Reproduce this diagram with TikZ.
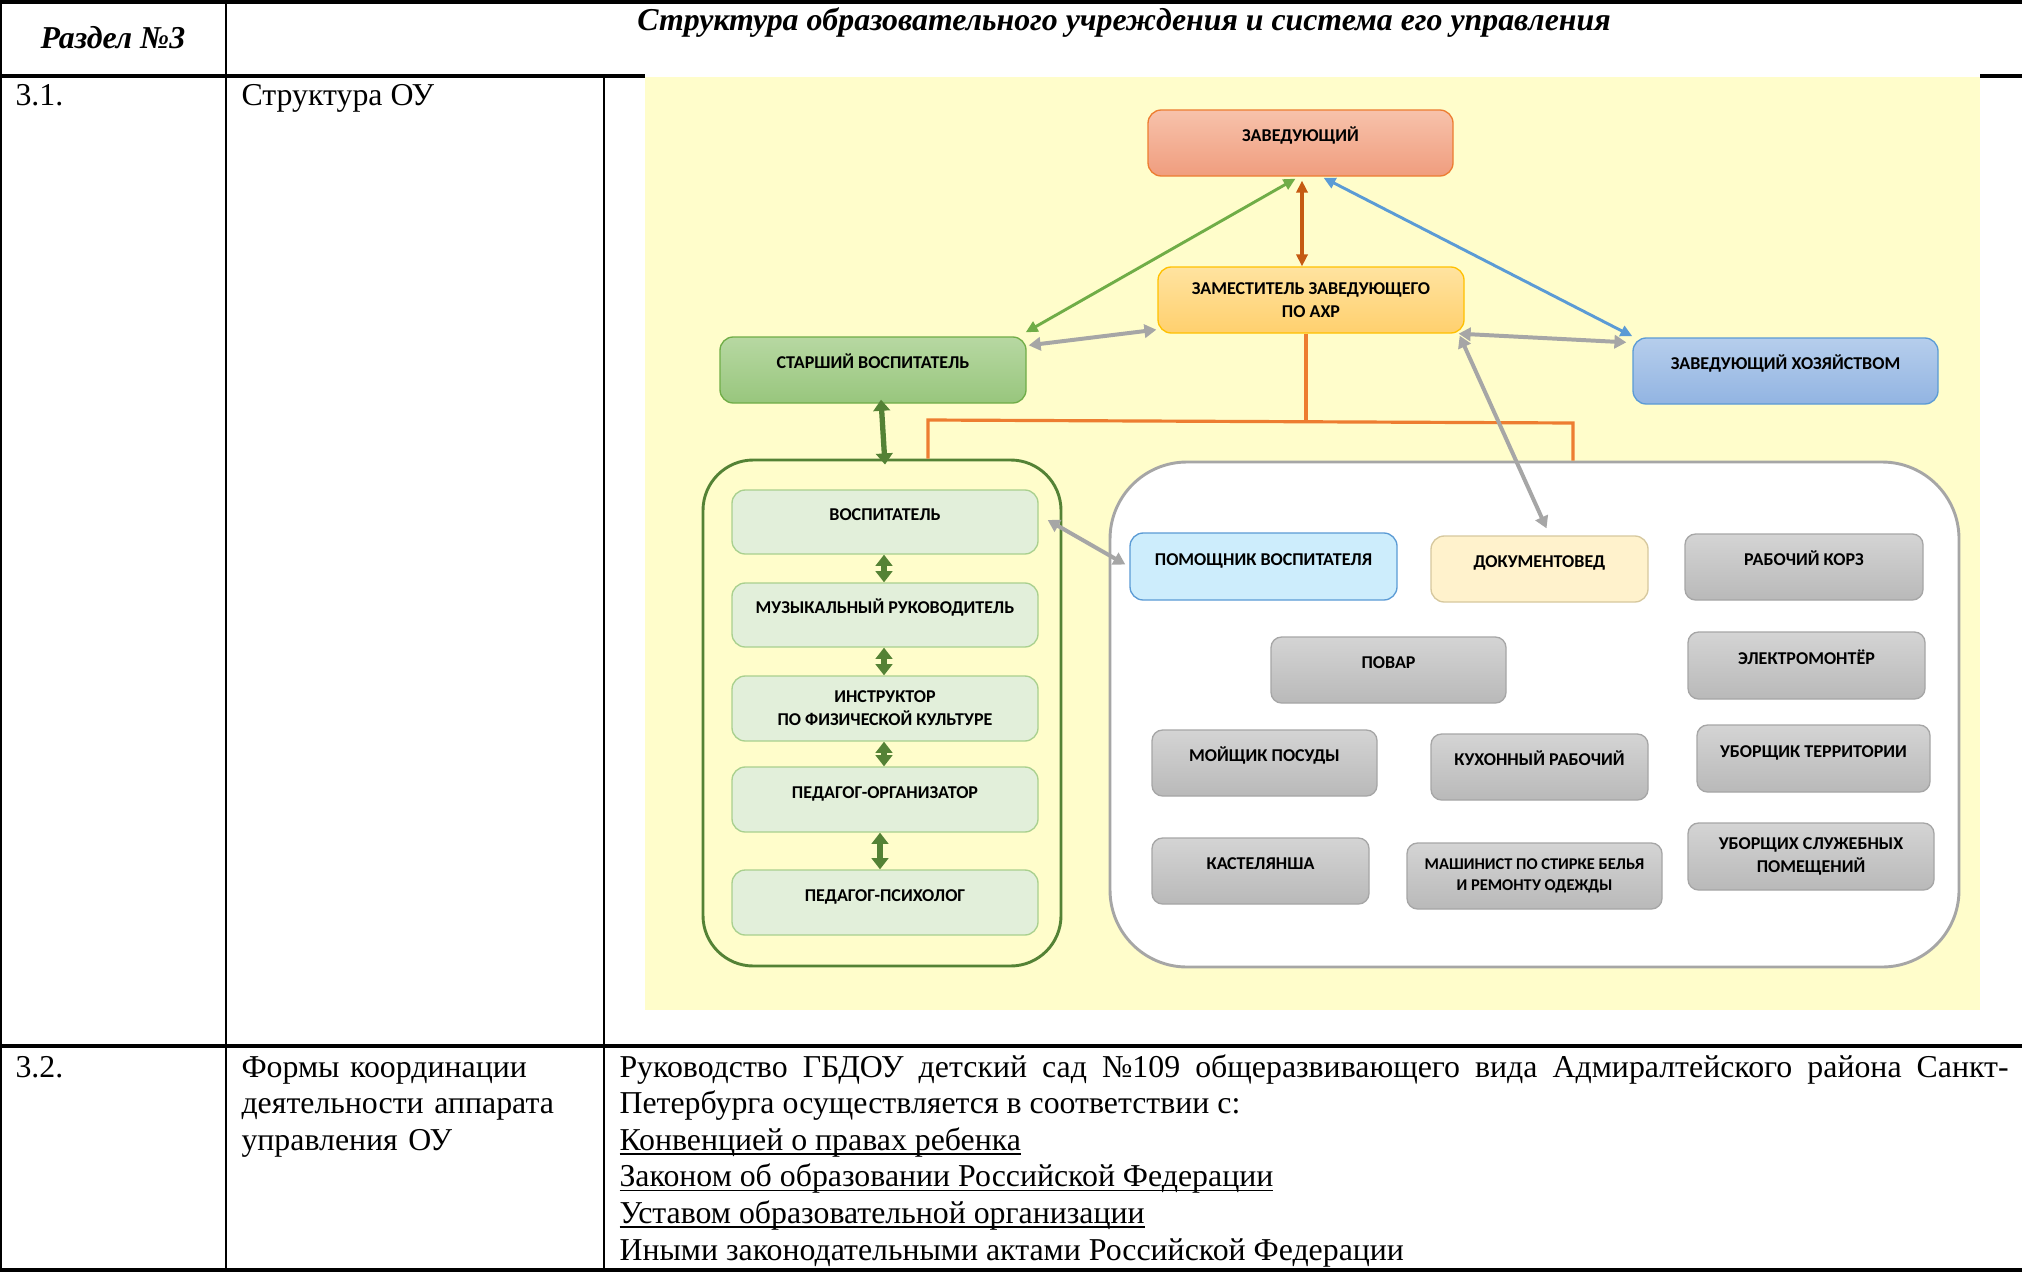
\documentclass[tikz,border=0pt]{standalone}
\usepackage{fontspec}
\setmainfont{Liberation Serif}
\newfontfamily\boxfont{Carlito}
\usetikzlibrary{arrows.meta,calc}
\setlength\parindent{0pt}
\newcommand\uln[1]{\leavevmode\setbox0\hbox{#1}\rlap{\rule[-1.7pt]{\wd0}{0.6pt}}\box0}

\definecolor{bgY}{HTML}{FFFDCB}
\definecolor{zavT}{HTML}{F7C2AB}
\definecolor{zavB}{HTML}{F09D7E}
\definecolor{zavD}{HTML}{ED7D31}
\definecolor{zamT}{HTML}{FFE3A0}
\definecolor{zamB}{HTML}{FFD06E}
\definecolor{zamD}{HTML}{FFC000}
\definecolor{svT}{HTML}{B7D8A2}
\definecolor{svB}{HTML}{98C67D}
\definecolor{svD}{HTML}{70AD47}
\definecolor{zhT}{HTML}{B6CEEC}
\definecolor{zhB}{HTML}{92B4E2}
\definecolor{zhD}{HTML}{5B9BD5}
\definecolor{gnF}{HTML}{E2EFDA}
\definecolor{gnD}{HTML}{A9D08E}
\definecolor{gnK}{HTML}{548235}
\definecolor{grT}{HTML}{D4D4D4}
\definecolor{grB}{HTML}{B9B9B9}
\definecolor{grD}{HTML}{A6A6A6}
\definecolor{pomF}{HTML}{CDEDFC}
\definecolor{dokF}{HTML}{FFF2CC}
\definecolor{dokD}{HTML}{D6C89E}
\definecolor{brn}{HTML}{C55A11}
\definecolor{orn}{HTML}{ED7D31}

\tikzset{
  sz/.style 2 args={minimum width=#1*0.377pt,minimum height=#2*0.377pt},
  pbox/.style={draw,rounded corners=5pt,line width=0.5pt,inner sep=1pt,align=center,
    font=\boxfont\bfseries\fontsize{6.8}{8.7}\selectfont},
  one/.style={text height=5pt,text depth=5.9pt},
  greybox/.style={pbox,rounded corners=4pt,top color=grT,bottom color=grB,draw=grD},
  greenbox/.style={pbox,fill=gnF,draw=gnD},
  link/.style={{Triangle[length=4.5pt,width=4.2pt]}-{Triangle[length=4.5pt,width=4.2pt]},line width=1.1pt},
  greylink/.style={{Triangle[length=4.5pt,width=5pt]}-{Triangle[length=4.5pt,width=5pt]},line width=1.5pt,draw=grD},
  gnlink/.style={{Triangle[length=4.2pt,width=6.2pt]}-{Triangle[length=4.2pt,width=6.2pt]},line width=2pt,draw=gnK},
  hline/.style={line width=1.2pt},
  vline/.style={line width=0.6pt},
  cell/.style={inner sep=0pt,font=\fontsize{12}{13.8}\selectfont}
}

\begin{document}
\begin{tikzpicture}[x=0.377pt,y=-0.377pt]
\useasboundingbox (0,0) rectangle (2022,1272);

\fill[bgY] (645,77) rectangle (1980,1010);

\draw[hline] (0,2) -- (2022,2);
\draw[hline] (0,76) -- (645,76);
\draw[hline] (1980,76) -- (2022,76);
\draw[hline] (0,1046) -- (2022,1046);
\draw[hline] (0,1270) -- (2022,1270);
\draw[vline] (1,2) -- (1,1270);
\draw[vline] (226,2) -- (226,1270);
\draw[vline] (604,76) -- (604,1270);

\node[cell,anchor=base,font=\fontsize{12}{13.8}\selectfont\bfseries\itshape] (sec) at (113,49) {Раздел №3};
\node[cell,anchor=base,font=\fontsize{12}{13.8}\selectfont\bfseries\itshape] (ttl) at (1124,31) {Структура образовательного учреждения и система его управления};
\node[cell,anchor=base west] (n31) at (15,106) {3.1.};
\node[cell,anchor=base west] (s31) at (241,106) {Структура ОУ};
\node[cell,anchor=base west] (n32) at (15,1077) {3.2.};
\node[cell,anchor=base west,text width=140pt,align=left] (s32) at (241,1077) {Формы координации\\деятельности аппарата\\управления ОУ};
\node[cell,anchor=base west,text width=523.7pt,align=justify] (t32) at (619,1077)
  {Руководство ГБДОУ детский сад №109 общеразвивающего вида Адмиралтейского района Санкт-\linebreak
   Петербурга осуществляется в соответствии с:\par
   \uln{Конвенцией о правах ребенка}\par
   \uln{Законом об образовании Российской Федерации}\par
   \uln{Уставом образовательной организации}\par
   Иными законодательными актами Российской Федерации};

\node[draw=gnK,line width=1.1pt,rounded corners=19pt,sz={358}{506}] (gc) at (882,713) {};
\node[draw=grD,fill=white,line width=1.1pt,rounded corners=29pt,sz={849}{505}] (wc) at (1534.5,714.5) {};

\node[pbox,one,top color=zavT,bottom color=zavB,draw=zavD,sz={305}{66}] (zav) at (1300.5,143) {ЗАВЕДУЮЩИЙ};
\node[pbox,top color=zamT,bottom color=zamB,draw=zamD,sz={306}{66}] (zam) at (1311,300) {ЗАМЕСТИТЕЛЬ ЗАВЕДУЮЩЕГО\\ПО АХР};
\node[pbox,one,top color=svT,bottom color=svB,draw=svD,sz={306}{66}] (sv) at (873,370) {СТАРШИЙ ВОСПИТАТЕЛЬ};
\node[pbox,one,top color=zhT,bottom color=zhB,draw=zhD,sz={305}{66}] (zh) at (1785.5,371) {ЗАВЕДУЮЩИЙ ХОЗЯЙСТВОМ};

\node[greenbox,one,sz={306}{64}] (vos) at (885,522) {ВОСПИТАТЕЛЬ};
\node[greenbox,one,sz={306}{64}] (muz) at (885,615) {МУЗЫКАЛЬНЫЙ РУКОВОДИТЕЛЬ};
\node[greenbox,sz={306}{65}] (ins) at (885,708.5) {ИНСТРУКТОР\\ПО ФИЗИЧЕСКОЙ КУЛЬТУРЕ};
\node[greenbox,one,sz={306}{65}] (org) at (885,799.5) {ПЕДАГОГ-ОРГАНИЗАТОР};
\node[greenbox,one,sz={306}{65}] (psi) at (885,902.5) {ПЕДАГОГ-ПСИХОЛОГ};

\node[pbox,one,fill=pomF,draw=zhD,sz={267}{67}] (pom) at (1263.5,566.5) {ПОМОЩНИК ВОСПИТАТЕЛЯ};
\node[pbox,one,fill=dokF,draw=dokD,sz={217}{66}] (dok) at (1539.5,569) {ДОКУМЕНТОВЕД};
\node[greybox,one,sz={238}{66}] (rab) at (1804,567) {РАБОЧИЙ КОРЗ};
\node[greybox,one,sz={235}{66}] (pov) at (1388.5,670) {ПОВАР};
\node[greybox,one,sz={237}{67}] (ele) at (1806.5,665.5) {ЭЛЕКТРОМОНТЁР};
\node[greybox,one,sz={225}{66}] (moj) at (1264.5,763) {МОЙЩИК ПОСУДЫ};
\node[greybox,one,sz={217}{66}] (kuh) at (1539.5,767) {КУХОННЫЙ РАБОЧИЙ};
\node[greybox,one,sz={233}{67}] (ubt) at (1813.5,758.5) {УБОРЩИК ТЕРРИТОРИИ};
\node[greybox,one,sz={217}{66}] (kas) at (1260.5,871) {КАСТЕЛЯНША};
\node[greybox,sz={255}{66},font=\boxfont\bfseries\fontsize{6.2}{7.8}\selectfont] (mash) at (1534.5,876) {МАШИНИСТ ПО СТИРКЕ БЕЛЬЯ\\И РЕМОНТУ ОДЕЖДЫ};
\node[greybox,sz={246}{67}] (ubs) at (1811,856.5) {УБОРЩИХ СЛУЖЕБНЫХ\\ПОМЕЩЕНИЙ};

\coordinate (oj) at (1306,421);
\coordinate (oL) at (928,420);
\coordinate (oR) at (1573,423);
\draw[orn,line width=1.2pt] (zam.south -| oj) -- (oj);
\draw[orn,line width=1.2pt] (gc.north -| oL) -- (oL) -- (oR) -- (wc.north -| oR);

\draw[link,draw=svD] ($(zav.south)+(-5,2)$) -- ($(sv.north east)+(-1,-4)$);
\draw[link,draw=brn,line width=1.2pt] ($(zav.south)+(1.5,4)$) -- ($(zav.south |- zam.north)+(1.5,0)$);
\draw[link,draw=zhD] ($(zav.south)+(23,1)$) -- ($(zh.north west)+(0,-1)$);

\draw[greylink] ($(sv.north east)+(2,9)$) -- ($(zam.south west)+(-1,-4)$);
\draw[greylink] ($(zam.south east)+(-6,0)$) -- ($(zh.north west)+(-6,5)$);
\draw[greylink] ($(zam.south east)+(-5,2)$) -- ($(dok.north)+(7,-7)$);
\draw[greylink] ($(vos.east)+(9,-2)$) -- ($(pom.west)+(-4,-2)$);

\draw[gnlink] ($(sv.south)+(8,-4)$) -- ($(gc.north)+(3,6)$);
\draw[gnlink] ($(vos.south)+(-1,0)$) -- ($(muz.north)+(-1,0)$);
\draw[gnlink] ($(muz.south)+(-1,0)$) -- ($(ins.north)+(-1,0)$);
\draw[gnlink] ($(ins.south)+(-1,0)$) -- ($(org.north)+(-1,0)$);
\draw[gnlink] ($(org.south)+(-5,0)$) -- ($(psi.north)+(-5,0)$);
\end{tikzpicture}
\end{document}
